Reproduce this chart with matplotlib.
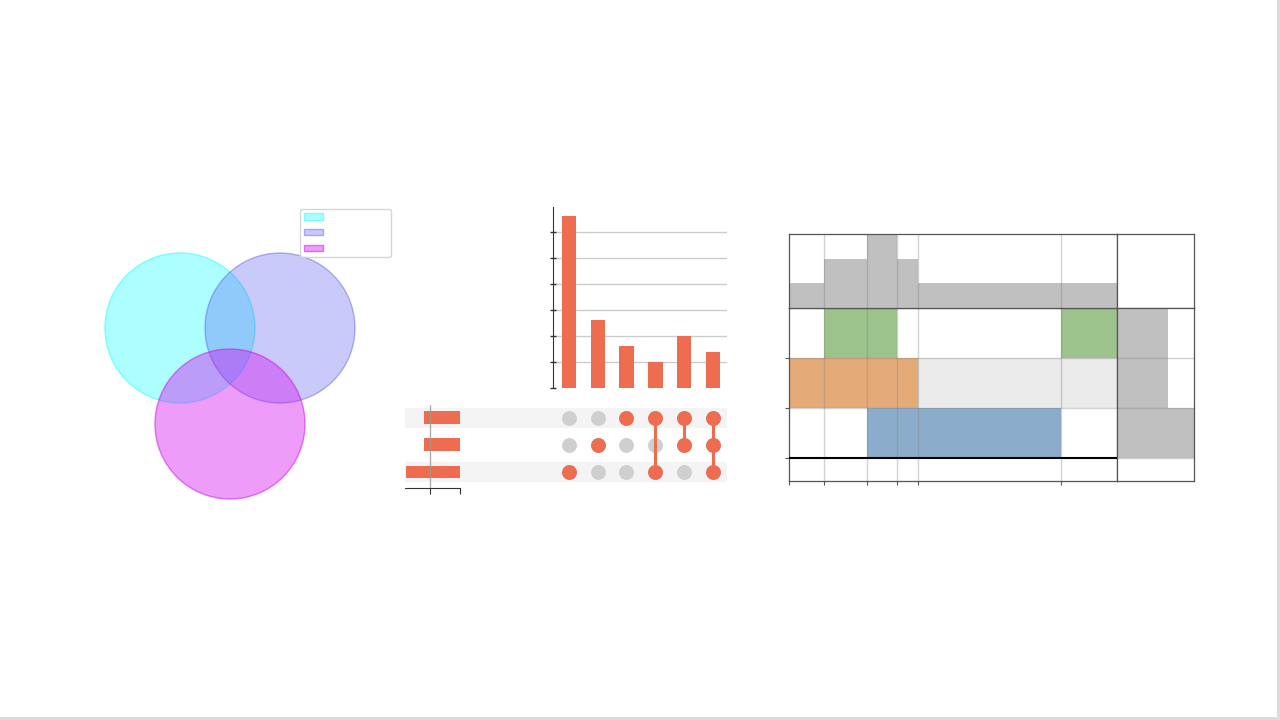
import matplotlib
matplotlib.use('Agg')
import matplotlib.pyplot as plt
from matplotlib.patches import Circle, Rectangle
import numpy as np

# ---- data ----
venn_sets = ['A', 'B', 'C']
venn_colors = ['#00ffff', '#5050f0', '#d20af0']

# upset: rows top->bottom, intersections left->right
upset_rows = ['set0', 'set1', 'set2']
upset_counts = [66, 26, 16, 10, 20, 14]
upset_members = [[2], [1], [0], [0, 2], [0, 1], [0, 1, 2]]
upset_totals = [60, 60, 90]

# supervenn: rows bottom->top, chunks left->right
sv_sets = ['C', 'B', 'A']
sv_set_sizes = [90, 60, 60]
sv_chunk_sizes = [16, 20, 14, 10, 66, 26]
sv_chunk_members = [[1], [1, 2], [0, 1, 2], [0, 1], [0], [2]]
sv_ghost = [(1, 4), (1, 5)]  # light grey cells (row, chunk)
sv_colors = ['#8badcb', '#e4aa78', '#9bc38b']

RED = '#ee6c50'
GREY_DOT = '#cfcfcf'
W, H = 1280, 720

fig = plt.figure(figsize=(12.8, 7.2), dpi=100)
fig.patch.set_facecolor('white')


def px_axes(x0, y0, x1, y1, **kw):
    return fig.add_axes([x0 / W, 1 - y1 / H, (x1 - x0) / W, (y1 - y0) / H], **kw)


# slide border
fig.patches.append(Rectangle((1 - 3 / W, 0), 3 / W, 1, transform=fig.transFigure,
                             facecolor='#dcdcdc', edgecolor='none'))
fig.patches.append(Rectangle((0, 0), 1, 3 / H, transform=fig.transFigure,
                             facecolor='#dcdcdc', edgecolor='none'))

# ---- venn ----
ax = px_axes(100, 205, 400, 505)
centers = [(-0.667, 0.427), (0.667, 0.427), (0.0, -0.853)]
alphas = [0.32, 0.3, 0.4]
handles = []
for (cx, cy), col, a in zip(centers, venn_colors, alphas):
    c = Circle((cx, cy), 1.0, facecolor=matplotlib.colors.to_rgba(col, a),
               edgecolor=matplotlib.colors.to_rgba(col, a + 0.12), lw=1)
    ax.add_patch(c)
    handles.append(c)
ax.set_xlim(-1.733, 2.267)
ax.set_ylim(-1.933, 2.067)
ax.axis('off')
fig.legend(handles, ['', '', ''], loc='upper left', mode='expand',
           bbox_to_anchor=(300 / W, 1 - 256 / H, 91 / W, 47 / H),
           fontsize=6.5, handlelength=2.2, labelspacing=0.75,
           borderaxespad=0, borderpad=0.4, handletextpad=0.5)

# ---- upset intersections ----
ax = px_axes(553, 207, 727, 388)
x = np.arange(len(upset_counts))
ax.bar(x, upset_counts, width=0.5, color=RED, zorder=3)
ax.set_xlim(-0.556, 5.486)
ax.set_ylim(0, 69.6)
for t in range(10, 70, 10):
    ax.axhline(t, color='#cccccc', lw=1, zorder=1)
ax.set_yticks(range(0, 70, 10))
ax.set_yticklabels([])
ax.set_xticks([])
ax.tick_params(axis='y', direction='inout', length=5, width=1, color='#333333')
for s in ['top', 'right', 'bottom']:
    ax.spines[s].set_visible(False)
ax.spines['left'].set_color('#333333')
ax.patch.set_alpha(0)

# ---- upset matrix ----
ax = px_axes(405, 405, 727, 486)
nrows = len(upset_rows)
ax.set_xlim(-5.69, 5.49)
ax.set_ylim(-0.518, 2.48)
for i in range(nrows):
    if i % 2 == 0:
        ax.add_patch(Rectangle((-5.69, (nrows - 1 - i) - 0.37), 11.18, 0.74,
                               facecolor='#f4f4f4', edgecolor='none', zorder=0))
for j, mem in enumerate(upset_members):
    ys = [nrows - 1 - i for i in range(nrows)]
    ax.scatter([j] * nrows, ys, s=115, color=GREY_DOT, zorder=2, linewidths=0)
    ym = [nrows - 1 - i for i in mem]
    if len(ym) > 1:
        ax.plot([j, j], [min(ym), max(ym)], color=RED, lw=2.2, zorder=3)
    ax.scatter([j] * len(ym), ym, s=115, color=RED, zorder=4, linewidths=0)
ax.axis('off')

# ---- upset totals ----
ax = px_axes(405, 405, 460, 488)
ax.barh([nrows - 1 - i for i in range(nrows)], upset_totals, height=0.48,
        color=RED, zorder=2)
ax.set_xlim(91.7, 0)
ax.set_ylim(-0.593, 2.48)
ax.axvline(50, color='#999999', lw=1, alpha=0.8, zorder=3)
ax.set_xticks([0, 50])
ax.set_xticklabels([])
ax.set_yticks([])
ax.tick_params(axis='x', direction='out', length=4, color='#333333')
for s in ['top', 'right', 'left']:
    ax.spines[s].set_visible(False)
ax.spines['bottom'].set_color('#333333')
ax.patch.set_alpha(0)

# ---- supervenn ----
bounds = np.concatenate([[0], np.cumsum(sv_chunk_sizes)])
total = bounds[-1]
SPINE = '#555555'
GRID = dict(color='grey', alpha=0.35, lw=1)

# main
ax = px_axes(789, 308, 1117, 481)
ax.set_xlim(0, total)
ax.set_ylim(-0.46, 3)
for c, mem in enumerate(sv_chunk_members):
    for r in mem:
        ax.add_patch(Rectangle((bounds[c], r), sv_chunk_sizes[c], 1,
                               facecolor=sv_colors[r], edgecolor='none', zorder=1))
for r, c in sv_ghost:
    ax.add_patch(Rectangle((bounds[c], r), sv_chunk_sizes[c], 1,
                           facecolor='#ebebeb', edgecolor='none', zorder=1))
for b in bounds[1:-1]:
    ax.axvline(b, zorder=2, **GRID)
for r in [1, 2]:
    ax.axhline(r, zorder=2, **GRID)
ax.axhline(0, color='black', lw=1.5, zorder=3)
ax.set_xticks(bounds[:-1])
ax.set_yticks([0, 1, 2])
ax.set_xticklabels([])
ax.set_yticklabels([])
ax.tick_params(direction='out', length=3, color=SPINE, width=0.8)
for s in ax.spines.values():
    s.set_color(SPINE)
    s.set_linewidth(0.9)

# top: how many sets contain each chunk
ax = px_axes(789, 234, 1117, 308)
counts = [len(m) for m in sv_chunk_members]
ax.bar(bounds[:-1], counts, width=sv_chunk_sizes, align='edge',
       color='#c0c0c0', zorder=1)
ax.set_xlim(0, total)
ax.set_ylim(0, 3)
for b in bounds[1:-1]:
    ax.axvline(b, zorder=2, **GRID)
ax.set_xticks([])
ax.set_yticks([])
for s in ax.spines.values():
    s.set_color(SPINE)
    s.set_linewidth(0.9)

# corner
ax = px_axes(1117, 234, 1194, 308)
ax.set_xticks([])
ax.set_yticks([])
for s in ax.spines.values():
    s.set_color(SPINE)
    s.set_linewidth(0.9)

# right: set sizes
ax = px_axes(1117, 308, 1194, 481)
ax.barh(np.arange(len(sv_sets)) + 0.5, sv_set_sizes, height=1,
        color='#c0c0c0', zorder=1)
ax.set_xlim(0, 90)
ax.set_ylim(-0.46, 3)
for r in [0, 1, 2]:
    ax.axhline(r, zorder=2, **GRID)
ax.set_xticks([])
ax.set_yticks([])
for s in ax.spines.values():
    s.set_color(SPINE)
    s.set_linewidth(0.9)

fig.savefig('out.png', dpi=100)
